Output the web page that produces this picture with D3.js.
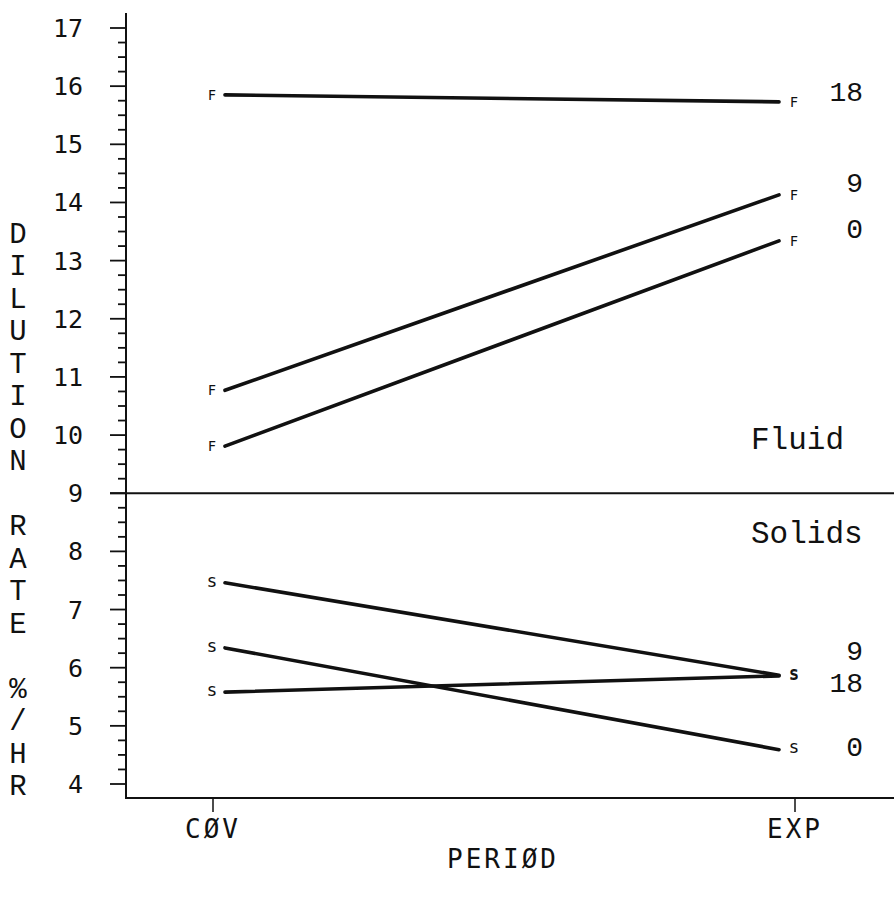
<!DOCTYPE html>
<html>
<head>
<meta charset="utf-8">
<script src="https://cdn.jsdelivr.net/npm/d3@7"></script>
<style>
  html, body { margin: 0; padding: 0; background: #fff; }
  svg { display: block; }
</style>
</head>
<body>
<svg id="chart" width="894" height="911"></svg>
<script>
// ---- data ----
const categories = ["CØV", "EXP"];
const yTickValues = [4, 5, 6, 7, 8, 9, 10, 11, 12, 13, 14, 15, 16, 17];
const yMinorStep = 0.25;
const dividerValue = 9;

const fluidGroups = ["18", "9", "0"];
const fluidCOV = [15.85, 10.77, 9.81];
const fluidEXP = [15.73, 14.13, 13.34];
const fluidLabelAt = [15.90, 14.35, 13.56];

const solidGroups = ["9", "18", "0"];
const solidCOV = [7.46, 5.58, 6.34];
const solidEXP = [5.87, 5.86, 4.59];
const solidLabelAt = [6.30, 5.74, 4.64];

const panelNames = ["Fluid", "Solids"];
const panelLabelAt = [9.95, 8.33];

const yAxisTitle = "DILUTION RATE %/HR";
const xAxisTitle = "PERIØD";

// ---- layout ----
const svg = d3.select("#chart");
const W = 894, H = 911;
const axisX = 126, axisY = 798;

const x = d3.scalePoint().domain(categories).range([213, 795]);
const y = d3.scaleLinear().domain([4, 17]).range([784, 28]);

const ink = "#111";
const plotFont = "'DejaVu Sans Mono', monospace";
const typeFont = "'Liberation Mono', 'DejaVu Sans Mono', monospace";

// y axis line
svg.append("line")
  .attr("x1", axisX).attr("x2", axisX)
  .attr("y1", y(17.26)).attr("y2", axisY)
  .attr("stroke", ink).attr("stroke-width", 2);

// minor ticks
const minor = d3.range(4, 17 + 1e-9, yMinorStep).filter(v => Math.abs(v - Math.round(v)) > 1e-6);
svg.append("g").selectAll("line").data(minor).join("line")
  .attr("x1", axisX - 8).attr("x2", axisX)
  .attr("y1", d => y(d)).attr("y2", d => y(d))
  .attr("stroke", ink).attr("stroke-width", 1.8);

// major ticks
svg.append("g").selectAll("line").data(yTickValues).join("line")
  .attr("x1", axisX - 16).attr("x2", axisX)
  .attr("y1", d => y(d)).attr("y2", d => y(d))
  .attr("stroke", ink).attr("stroke-width", 1.8);

// tick labels
svg.append("g").selectAll("text").data(yTickValues).join("text")
  .attr("x", 83).attr("y", d => y(d)).attr("dy", "0.36em")
  .attr("text-anchor", "end")
  .attr("font-family", plotFont).attr("font-size", 25)
  .attr("fill", ink)
  .text(d => d);

// divider at 9
svg.append("line")
  .attr("x1", axisX - 16).attr("x2", W)
  .attr("y1", y(dividerValue)).attr("y2", y(dividerValue))
  .attr("stroke", ink).attr("stroke-width", 2);

// x axis line
svg.append("line")
  .attr("x1", axisX - 1).attr("x2", W)
  .attr("y1", axisY).attr("y2", axisY)
  .attr("stroke", ink).attr("stroke-width", 2);

// x ticks + labels
svg.append("g").selectAll("line").data(categories).join("line")
  .attr("x1", d => x(d)).attr("x2", d => x(d))
  .attr("y1", axisY).attr("y2", axisY + 14)
  .attr("stroke", ink).attr("stroke-width", 1.5);
svg.append("g").selectAll("text").data(categories).join("text")
  .attr("x", d => x(d)).attr("y", 838)
  .attr("text-anchor", "middle")
  .attr("font-family", plotFont).attr("font-size", 26)
  .attr("letter-spacing", 3)
  .attr("fill", ink)
  .text(d => d);

// x axis title
svg.append("text")
  .attr("x", 503).attr("y", 868)
  .attr("text-anchor", "middle")
  .attr("font-family", plotFont).attr("font-size", 26)
  .attr("letter-spacing", 3)
  .attr("fill", ink)
  .text(xAxisTitle);

// y axis title (stacked letters)
const letters = yAxisTitle.split("");
svg.append("g").selectAll("text").data(letters).join("text")
  .attr("x", 18).attr("y", (d, i) => 233 + i * 32.5).attr("dy", "0.34em")
  .attr("text-anchor", "middle")
  .attr("font-family", typeFont).attr("font-size", 29)
  .attr("fill", ink)
  .text(d => d === " " ? "" : d);

// series drawing
function drawPanel(groups, cov, exp, labelAt, marker) {
  const g = svg.append("g");
  const rows = groups.map((name, i) => ({ name, a: cov[i], b: exp[i], lab: labelAt[i] }));
  g.selectAll("line.series").data(rows).join("line")
    .attr("class", "series")
    .attr("x1", x(categories[0]) + 12).attr("x2", x(categories[1]) - 16)
    .attr("y1", d => y(d.a)).attr("y2", d => y(d.b))
    .attr("stroke", ink).attr("stroke-width", 3.6)
    .attr("stroke-linecap", "round");
  const mk = [];
  rows.forEach(r => { mk.push({ c: categories[0], v: r.a }); mk.push({ c: categories[1], v: r.b }); });
  g.selectAll("text.mk").data(mk).join("text")
    .attr("class", "mk")
    .attr("x", d => x(d.c) - 1).attr("y", d => y(d.v))
    .attr("dy", marker === "F" ? "0.36em" : "0.22em")
    .attr("text-anchor", "middle")
    .attr("font-family", "'DejaVu Sans', sans-serif")
    .attr("font-size", marker === "F" ? 14 : 17)
    .attr("fill", ink)
    .text(marker);
  g.selectAll("text.lab").data(rows).join("text")
    .attr("class", "lab")
    .attr("x", 863).attr("y", d => y(d.lab)).attr("dy", "0.34em")
    .attr("text-anchor", "end")
    .attr("font-family", typeFont).attr("font-size", 28)
    .attr("fill", ink)
    .text(d => d.name);
}
drawPanel(fluidGroups, fluidCOV, fluidEXP, fluidLabelAt, "F");
drawPanel(solidGroups, solidCOV, solidEXP, solidLabelAt, "s");

// panel names
svg.append("g").selectAll("text").data(panelNames).join("text")
  .attr("x", 751).attr("y", (d, i) => y(panelLabelAt[i])).attr("dy", "0.34em")
  .attr("text-anchor", "start")
  .attr("font-family", typeFont).attr("font-size", 31)
  .attr("fill", ink)
  .text(d => d);
</script>
</body>
</html>
